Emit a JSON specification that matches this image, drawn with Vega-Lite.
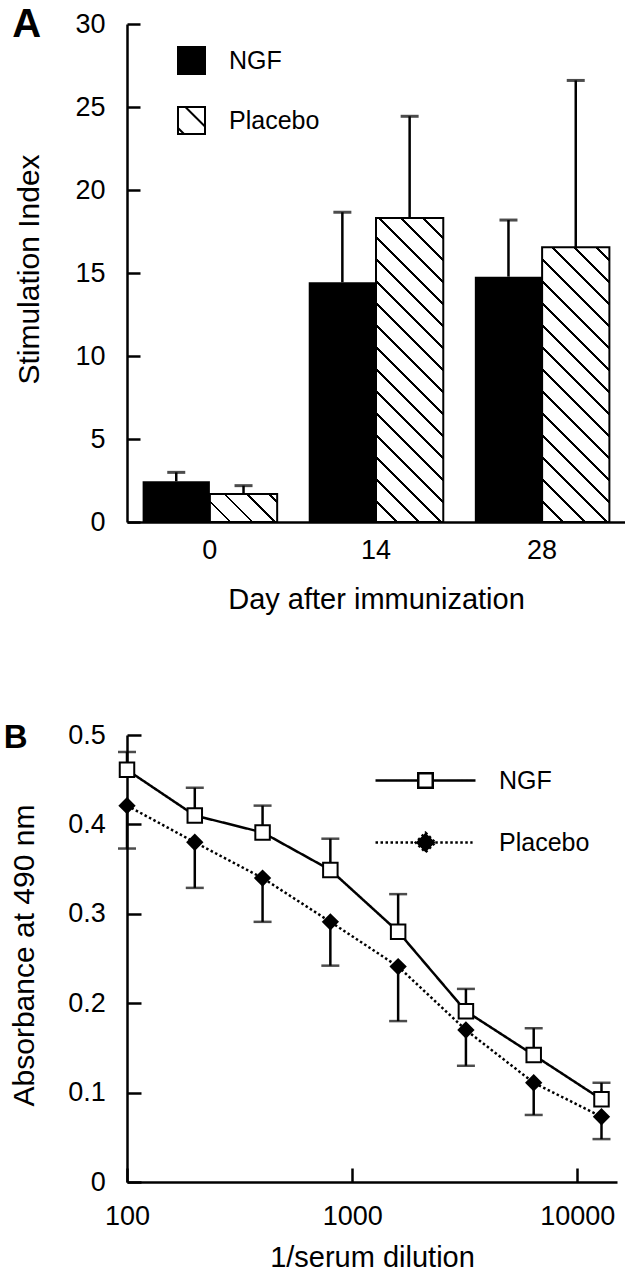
{
  "$schema": "https://vega.github.io/schema/vega-lite/v6.json",
  "background": "white",
  "padding": {"left": 3, "top": 5, "right": 0, "bottom": 0},
  "spacing": 107,
  "config": {
    "font": "Liberation Sans",
    "view": {"stroke": null},
    "axis": {"domainColor": "black", "tickColor": "black", "labelColor": "black", "titleColor": "black", "grid": false, "domainWidth": 2.5, "tickWidth": 2.5, "labelFont": "Liberation Sans", "titleFont": "Liberation Sans", "titleFontWeight": "normal", "labelOverlap": false},
    "legend": {"labelFont": "Liberation Sans", "labelColor": "black"}
  },
  "params": [
    {"name": "hatchStops", "value": [
      {"offset": 0, "color": "white"},
      {"offset": 0.03625, "color": "white"}, {"offset": 0.03625, "color": "black"}, {"offset": 0.041667, "color": "black"}, {"offset": 0.041667, "color": "white"},
      {"offset": 0.077917, "color": "white"}, {"offset": 0.077917, "color": "black"}, {"offset": 0.083333, "color": "black"}, {"offset": 0.083333, "color": "white"},
      {"offset": 0.119583, "color": "white"}, {"offset": 0.119583, "color": "black"}, {"offset": 0.125, "color": "black"}, {"offset": 0.125, "color": "white"},
      {"offset": 0.16125, "color": "white"}, {"offset": 0.16125, "color": "black"}, {"offset": 0.166667, "color": "black"}, {"offset": 0.166667, "color": "white"},
      {"offset": 0.202917, "color": "white"}, {"offset": 0.202917, "color": "black"}, {"offset": 0.208333, "color": "black"}, {"offset": 0.208333, "color": "white"},
      {"offset": 0.244583, "color": "white"}, {"offset": 0.244583, "color": "black"}, {"offset": 0.25, "color": "black"}, {"offset": 0.25, "color": "white"},
      {"offset": 0.28625, "color": "white"}, {"offset": 0.28625, "color": "black"}, {"offset": 0.291667, "color": "black"}, {"offset": 0.291667, "color": "white"},
      {"offset": 0.327917, "color": "white"}, {"offset": 0.327917, "color": "black"}, {"offset": 0.333333, "color": "black"}, {"offset": 0.333333, "color": "white"},
      {"offset": 0.369583, "color": "white"}, {"offset": 0.369583, "color": "black"}, {"offset": 0.375, "color": "black"}, {"offset": 0.375, "color": "white"},
      {"offset": 0.41125, "color": "white"}, {"offset": 0.41125, "color": "black"}, {"offset": 0.416667, "color": "black"}, {"offset": 0.416667, "color": "white"},
      {"offset": 0.452917, "color": "white"}, {"offset": 0.452917, "color": "black"}, {"offset": 0.458333, "color": "black"}, {"offset": 0.458333, "color": "white"},
      {"offset": 0.494583, "color": "white"}, {"offset": 0.494583, "color": "black"}, {"offset": 0.5, "color": "black"}, {"offset": 0.5, "color": "white"},
      {"offset": 0.53625, "color": "white"}, {"offset": 0.53625, "color": "black"}, {"offset": 0.541667, "color": "black"}, {"offset": 0.541667, "color": "white"},
      {"offset": 0.577917, "color": "white"}, {"offset": 0.577917, "color": "black"}, {"offset": 0.583333, "color": "black"}, {"offset": 0.583333, "color": "white"},
      {"offset": 0.619583, "color": "white"}, {"offset": 0.619583, "color": "black"}, {"offset": 0.625, "color": "black"}, {"offset": 0.625, "color": "white"},
      {"offset": 0.66125, "color": "white"}, {"offset": 0.66125, "color": "black"}, {"offset": 0.666667, "color": "black"}, {"offset": 0.666667, "color": "white"},
      {"offset": 0.702917, "color": "white"}, {"offset": 0.702917, "color": "black"}, {"offset": 0.708333, "color": "black"}, {"offset": 0.708333, "color": "white"},
      {"offset": 0.744583, "color": "white"}, {"offset": 0.744583, "color": "black"}, {"offset": 0.75, "color": "black"}, {"offset": 0.75, "color": "white"},
      {"offset": 0.78625, "color": "white"}, {"offset": 0.78625, "color": "black"}, {"offset": 0.791667, "color": "black"}, {"offset": 0.791667, "color": "white"},
      {"offset": 0.827917, "color": "white"}, {"offset": 0.827917, "color": "black"}, {"offset": 0.833333, "color": "black"}, {"offset": 0.833333, "color": "white"},
      {"offset": 0.869583, "color": "white"}, {"offset": 0.869583, "color": "black"}, {"offset": 0.875, "color": "black"}, {"offset": 0.875, "color": "white"},
      {"offset": 0.91125, "color": "white"}, {"offset": 0.91125, "color": "black"}, {"offset": 0.916667, "color": "black"}, {"offset": 0.916667, "color": "white"},
      {"offset": 0.952917, "color": "white"}, {"offset": 0.952917, "color": "black"}, {"offset": 0.958333, "color": "black"}, {"offset": 0.958333, "color": "white"},
      {"offset": 0.994583, "color": "white"}, {"offset": 0.994583, "color": "black"}, {"offset": 1, "color": "black"}
    ]}
  ],
  "resolve": {
    "scale": {"fill": "independent"},
    "legend": {"fill": "independent"}
  },
  "vconcat": [
    {
      "title": {"text": "A", "anchor": "start", "frame": "bounds", "fontSize": 40, "fontWeight": "bold", "font": "Liberation Sans", "color": "black", "baseline": "alphabetic", "offset": 0, "dy": 67, "dx": -1.8},
      "width": 498,
      "height": 498,
      "data": {"values": [
        {"day": "0", "group": "NGF", "mean": 2.45, "upper": 2.99},
        {"day": "0", "group": "Placebo", "mean": 1.69, "upper": 2.19},
        {"day": "14", "group": "NGF", "mean": 14.44, "upper": 18.66},
        {"day": "14", "group": "Placebo", "mean": 18.31, "upper": 24.44},
        {"day": "28", "group": "NGF", "mean": 14.78, "upper": 18.19},
        {"day": "28", "group": "Placebo", "mean": 16.55, "upper": 26.6}
      ]},
      "encoding": {
        "x": {"field": "day", "type": "nominal", "sort": ["0", "14", "28"],
              "scale": {"paddingInner": 0.19, "paddingOuter": 0.094},
              "axis": {"title": "Day after immunization", "labelAngle": 0, "ticks": false, "labelPadding": 15, "labelFontSize": 27, "titleFontSize": 29, "titlePadding": 22}},
        "xOffset": {"field": "group", "sort": ["NGF", "Placebo"]}
      },
      "layer": [
        {
          "mark": {"type": "bar", "strokeWidth": 0},
          "encoding": {
            "y": {"field": "mean", "type": "quantitative", "stack": null, "title": "Stimulation Index",
                  "scale": {"domain": [0, 30], "nice": false},
                  "axis": {"values": [0, 5, 10, 15, 20, 25, 30], "format": "d", "tickSize": -13, "labelPadding": 35, "labelFontSize": 27, "titleFontSize": 30, "titleX": -89, "titleY": 245, "titleBaseline": "alphabetic"}},
            "fill": {"field": "group", "type": "nominal",
                     "scale": {"domain": ["NGF", "Placebo"], "range": ["black", "white"]},
                     "legend": {"title": null, "orient": "none", "legendX": 50, "legendY": 22, "symbolType": "square", "symbolSize": 729, "symbolStrokeColor": "black", "symbolStrokeWidth": 2, "labelFontSize": 25, "labelOffset": 23, "rowPadding": 25,
                                "encode": {"symbols": {"update": {
                                  "shape": {"signal": "datum.value === 'Placebo' ? 'M-1,-1H1V1H-1Z M-0.45,-1L1,0.45 M-1,0.55L-0.55,1' : 'square'"},
                                  "stroke": {"value": "black"},
                                  "strokeWidth": {"value": 2}}}}}}
          }
        },
        {
          "transform": [{"filter": "datum.group === 'Placebo'"}],
          "mark": {"type": "bar", "stroke": "black", "strokeWidth": 2,
                   "fill": {"expr": "{gradient: 'linear', x1: 0, y1: 1, x2: 528.9*67.25/(4522.6+pow(datum.mean*16.6,2)), y2: 1 - 528.9*datum.mean*16.6/(4522.6+pow(datum.mean*16.6,2)), stops: hatchStops}"}},
          "encoding": {
            "y": {"field": "mean", "type": "quantitative", "stack": null, "title": "Stimulation Index"}
          }
        },
        {
          "mark": {"type": "rule", "color": "black", "strokeWidth": 2.5},
          "encoding": {
            "y": {"field": "mean", "type": "quantitative", "title": "Stimulation Index"},
            "y2": {"field": "upper"}
          }
        },
        {
          "mark": {"type": "tick", "orient": "horizontal", "color": "black", "size": 18, "thickness": 3},
          "encoding": {
            "y": {"field": "upper", "type": "quantitative", "title": "Stimulation Index"}
          }
        }
      ]
    },
    {
      "title": {"text": "B", "anchor": "start", "frame": "bounds", "fontSize": 33, "fontWeight": "bold", "font": "Liberation Sans", "color": "black", "baseline": "alphabetic", "offset": 0, "dy": 60, "dx": -5.2},
      "width": 490,
      "height": 447,
      "data": {"values": [
        {"dil": 100, "group": "NGF", "mean": 0.461, "err": 0.481},
        {"dil": 200, "group": "NGF", "mean": 0.41, "err": 0.441},
        {"dil": 400, "group": "NGF", "mean": 0.391, "err": 0.421},
        {"dil": 800, "group": "NGF", "mean": 0.349, "err": 0.384},
        {"dil": 1600, "group": "NGF", "mean": 0.28, "err": 0.322},
        {"dil": 3200, "group": "NGF", "mean": 0.191, "err": 0.216},
        {"dil": 6400, "group": "NGF", "mean": 0.142, "err": 0.172},
        {"dil": 12800, "group": "NGF", "mean": 0.0925, "err": 0.111},
        {"dil": 100, "group": "Placebo", "mean": 0.421, "err": 0.373},
        {"dil": 200, "group": "Placebo", "mean": 0.38, "err": 0.329},
        {"dil": 400, "group": "Placebo", "mean": 0.34, "err": 0.291},
        {"dil": 800, "group": "Placebo", "mean": 0.291, "err": 0.242},
        {"dil": 1600, "group": "Placebo", "mean": 0.241, "err": 0.18},
        {"dil": 3200, "group": "Placebo", "mean": 0.17, "err": 0.13},
        {"dil": 6400, "group": "Placebo", "mean": 0.111, "err": 0.075},
        {"dil": 12800, "group": "Placebo", "mean": 0.073, "err": 0.048}
      ]},
      "encoding": {
        "x": {"field": "dil", "type": "quantitative",
              "scale": {"type": "log", "domain": [100, 15000], "nice": false},
              "axis": {"title": "1/serum dilution", "values": [100, 1000, 10000], "format": "d", "tickSize": -14, "labelPadding": 35, "labelFontSize": 27, "labelFlush": false, "titleFontSize": 29, "titlePadding": 14}}
      },
      "layer": [
        {
          "mark": {"type": "rule", "color": "black", "strokeWidth": 2.5},
          "encoding": {
            "y": {"field": "mean", "type": "quantitative", "title": "Absorbance at 490 nm",
                  "scale": {"domain": [0, 0.5], "nice": false},
                  "axis": {"values": [0, 0.1, 0.2, 0.3, 0.4, 0.5], "format": "~g", "tickSize": -14, "labelPadding": 35.6, "labelFontSize": 27, "titleFontSize": 30, "titleX": -94, "titleY": 220, "titleBaseline": "alphabetic"}},
            "y2": {"field": "err"},
            "fill": {"field": "group", "type": "nominal", "scale": {"domain": ["NGF", "Placebo"], "range": ["white", "black"]},
                     "legend": {"title": null, "orient": "none", "legendX": 286, "legendY": 33, "symbolType": "square", "symbolSize": 210, "symbolStrokeColor": "black", "symbolStrokeWidth": 2.5, "labelFontSize": 25, "labelOffset": 61, "rowPadding": 33,
                                "encode": {"symbols": {"update": {
                                  "shape": {"signal": "datum.value === 'NGF' ? 'M-6.9,0H-1 M1,0H6.9 M-1,-1H1V1H-1Z' : 'M-6.9,0H-1.35 M1.35,0H6.5 M0,-1.35L1.35,0L0,1.35L-1.35,0Z'"},
                                  "fill": {"signal": "datum.value === 'NGF' ? 'white' : 'black'"},
                                  "stroke": {"value": "black"},
                                  "strokeWidth": {"value": 2.5},
                                  "strokeDash": {"signal": "datum.value === 'Placebo' ? [2.5, 2.5] : [1, 0]"},
                                  "opacity": {"value": 1}}}}}}
          }
        },
        {
          "mark": {"type": "tick", "orient": "horizontal", "color": "black", "size": 18, "thickness": 2.5},
          "encoding": {
            "y": {"field": "err", "type": "quantitative", "title": "Absorbance at 490 nm"}
          }
        },
        {
          "mark": {"type": "line", "color": "black", "strokeWidth": 2.5,
                   "strokeDash": {"expr": "datum.group === 'Placebo' ? [2.5, 2.5] : [1, 0]"}},
          "encoding": {
            "y": {"field": "mean", "type": "quantitative", "title": "Absorbance at 490 nm"},
            "detail": {"field": "group", "type": "nominal"}
          }
        },
        {
          "mark": {"type": "point", "filled": true, "stroke": "black", "strokeWidth": 2, "size": 210, "opacity": 1,
                   "shape": {"expr": "datum.group === 'NGF' ? 'square' : 'diamond'"},
                   "fill": {"expr": "datum.group === 'NGF' ? 'white' : 'black'"}},
          "encoding": {
            "y": {"field": "mean", "type": "quantitative", "title": "Absorbance at 490 nm"}
          }
        }
      ]
    }
  ]
}
